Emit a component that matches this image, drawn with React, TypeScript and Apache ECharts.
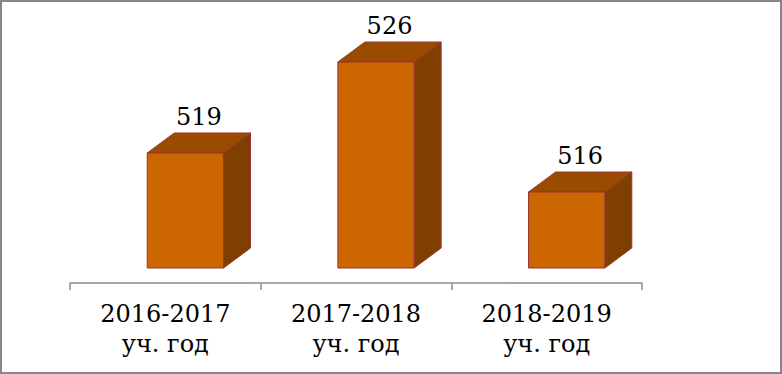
import React, { useEffect, useRef } from "react";
import * as echarts from "echarts";

const categories = ["2016-2017\nуч. год", "2017-2018\nуч. год", "2018-2019\nуч. год"];
const values = [519, 526, 516];
const yMin = 509;
const yMax = 530;

const FONT = "DejaVu Serif";

export default function App() {
  const ref = useRef<HTMLDivElement>(null);
  useEffect(() => {
    if (!ref.current) return;
    const chart = echarts.init(ref.current, null, { renderer: "svg" });
    const depthX = 27;
    const depthY = 20;
    const floorOffset = 15;
    chart.setOption({
      animation: false,
      backgroundColor: "#ffffff",
      grid: { left: 70, right: 140, top: 10, bottom: 91 },
      xAxis: {
        type: "category",
        data: categories,
        axisLine: { lineStyle: { color: "#8c8c8c", width: 1.5 } },
        axisTick: { show: true, length: 7, lineStyle: { color: "#8c8c8c", width: 1.5 } },
        axisLabel: {
          fontFamily: FONT,
          fontSize: 24,
          color: "#000",
          lineHeight: 30,
          margin: 16,
        },
      },
      yAxis: {
        type: "value",
        min: yMin,
        max: yMax,
        show: false,
        splitLine: { show: false },
      },
      graphic: [
        {
          type: "rect",
          shape: { x: 1, y: 1, width: 780, height: 372 },
          style: { fill: "none", stroke: "#878787", lineWidth: 2 },
          silent: true,
        },
      ],
      series: [
        {
          type: "custom",
          data: values.map((v, i) => [i, v]),
          encode: { x: 0, y: 1 },
          renderItem: (params: any, api: any) => {
            const idx = api.value(0);
            const val = api.value(1);
            const top = api.coord([idx, val]);
            const base = api.coord([idx, yMin]);
            const band = api.size([1, 0])[0];
            const w = band * 0.4;
            const cx = top[0] + band * 0.105;
            const x0 = cx - w / 2;
            const x1 = cx + w / 2;
            const yt = top[1];
            const yb = base[1] - floorOffset;
            const edge = { stroke: "#993333", lineWidth: 1 };
            return {
              type: "group",
              children: [
                {
                  type: "polygon",
                  shape: {
                    points: [
                      [x1, yt],
                      [x1 + depthX, yt - depthY],
                      [x1 + depthX, yb - depthY],
                      [x1, yb],
                    ],
                  },
                  style: { fill: "#7f3f00", ...edge },
                },
                {
                  type: "polygon",
                  shape: {
                    points: [
                      [x0, yt],
                      [x1, yt],
                      [x1 + depthX, yt - depthY],
                      [x0 + depthX, yt - depthY],
                    ],
                  },
                  style: { fill: "#994c00", ...edge },
                },
                {
                  type: "rect",
                  shape: { x: x0, y: yt, width: w, height: yb - yt },
                  style: { fill: "#cc6600", ...edge },
                },
                {
                  type: "text",
                  x: cx + depthX / 2,
                  y: yt - 36,
                  style: {
                    text: String(val),
                    fontFamily: FONT,
                    fontSize: 24,
                    fill: "#000",
                    align: "center",
                    verticalAlign: "middle",
                  },
                },
              ],
            };
          },
        },
      ],
    });
    return () => chart.dispose();
  }, []);
  return (
    <div
      ref={ref}
      style={{ position: "absolute", left: 0, top: 0, width: 782, height: 374 }}
    />
  );
}
